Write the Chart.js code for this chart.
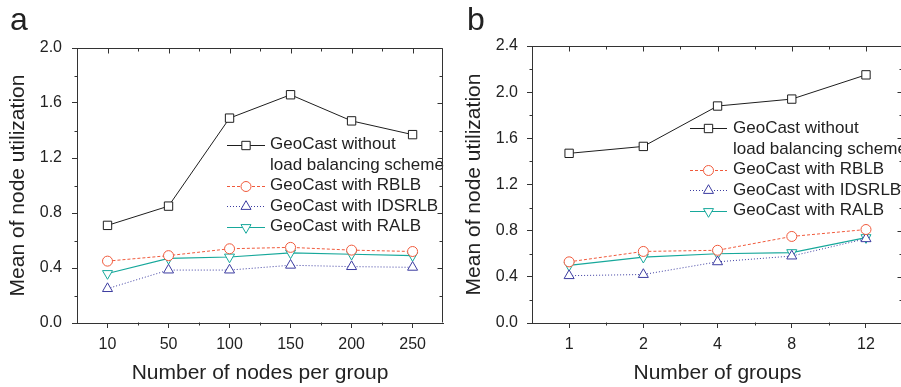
<!DOCTYPE html>
<html>
<head>
<meta charset="utf-8">
<script src="https://cdn.jsdelivr.net/npm/chart.js@4.4.1/dist/chart.umd.min.js"></script>
<style>
  html, body { margin: 0; padding: 0; background: #fff; overflow: hidden; }
  #wrap { position: relative; width: 901px; height: 387px; overflow: hidden; }
  #pa { position: absolute; left: 0; top: 0; }
  #pb { position: absolute; left: 450px; top: 0; }
</style>
</head>
<body>
<div id="wrap">
  <canvas id="pa" width="450" height="387"></canvas>
  <canvas id="pb" width="460" height="387"></canvas>
</div>
<script>
// panel a: nodes per group
var nodeLabels = ["10", "50", "100", "150", "200", "250"];
var aNoLB   = [0.71, 0.85, 1.49, 1.66, 1.47, 1.37];
var aRBLB   = [0.45, 0.49, 0.54, 0.55, 0.53, 0.52];
var aIDSRLB = [0.25, 0.385, 0.385, 0.42, 0.41, 0.405];
var aRALB   = [0.36, 0.47, 0.48, 0.51, 0.50, 0.49];

// panel b: number of groups
var groupLabels = ["1", "2", "4", "8", "12"];
var bNoLB   = [1.47, 1.53, 1.88, 1.94, 2.15];
var bRBLB   = [0.53, 0.62, 0.63, 0.75, 0.81];
var bIDSRLB = [0.41, 0.42, 0.53, 0.58, 0.73];
var bRALB   = [0.50, 0.57, 0.60, 0.61, 0.74];

var seriesNames = ["GeoCast without\nload balancing scheme", "GeoCast with RBLB", "GeoCast with IDSRLB", "GeoCast with RALB"];

var FONT = "'Liberation Sans', Arial, sans-serif";
var INK = "#222";
var AXIS = "#333";

function makeDatasets(noLB, rblb, idsrlb, ralb) {
  return [
    { label: seriesNames[0], data: noLB, borderColor: "#1e1e1e", borderWidth: 1, borderDash: [],
      pointStyle: "rect", pointRadius: 5.9, pointRotation: 0 },
    { label: seriesNames[1], data: rblb, borderColor: "#f05a3c", borderWidth: 1, borderDash: [3, 2],
      pointStyle: "circle", pointRadius: 5, pointRotation: 0 },
    { label: seriesNames[2], data: idsrlb, borderColor: "#3c3ca0", borderWidth: 1, borderDash: [1, 2],
      pointStyle: "triangle", pointRadius: 5.8, pointRotation: 0 },
    { label: seriesNames[3], data: ralb, borderColor: "#17a89b", borderWidth: 1.2, borderDash: [],
      pointStyle: "triangle", pointRadius: 5.8, pointRotation: 180 }
  ].map(function(d) {
    d.backgroundColor = "#fff";
    d.pointBackgroundColor = "#fff";
    d.pointBorderColor = d.borderColor;
    d.pointBorderWidth = 1;
    d.tension = 0;
    d.fill = false;
    return d;
  });
}

function drawMarker(ctx, ds, x, y) {
  var r = ds.pointRadius;
  ctx.save();
  ctx.setLineDash([]);
  ctx.lineWidth = 1;
  ctx.strokeStyle = ds.borderColor;
  ctx.fillStyle = "#fff";
  ctx.beginPath();
  if (ds.pointStyle === "rect") {
    var s = r * Math.SQRT1_2;
    ctx.rect(x - s, y - s, 2 * s, 2 * s);
  } else if (ds.pointStyle === "circle") {
    ctx.arc(x, y, r, 0, Math.PI * 2);
  } else {
    var dir = ds.pointRotation === 180 ? 1 : -1;
    ctx.moveTo(x, y + dir * r);
    ctx.lineTo(x - r * 0.866, y - dir * r * 0.5);
    ctx.lineTo(x + r * 0.866, y - dir * r * 0.5);
    ctx.closePath();
  }
  ctx.fill();
  ctx.stroke();
  ctx.restore();
}

// box frame, mirrored ticks and minor ticks
var framePlugin = {
  id: "frame",
  afterDraw: function(chart, args, opts) {
    var ctx = chart.ctx, a = chart.chartArea;
    var xs = chart.scales.x, ys = chart.scales.y;
    var L = Math.round(a.left) + 0.5, R = Math.round(a.right) - 0.5;
    var T = Math.round(a.top) + 0.5, B = Math.round(a.bottom) - 0.5;
    ctx.save();
    ctx.strokeStyle = AXIS;
    ctx.lineWidth = 1;
    ctx.beginPath();
    ctx.moveTo(L, T); ctx.lineTo(R, T); ctx.lineTo(R, B);
    var n = chart.data.labels.length, i, px, py;
    for (i = 0; i < n; i++) {
      px = Math.round(xs.getPixelForValue(i)) + 0.5;
      ctx.moveTo(px, T); ctx.lineTo(px, T + 5);
      if (i < n - 1) {
        px = Math.round((xs.getPixelForValue(i) + xs.getPixelForValue(i + 1)) / 2) + 0.5;
        ctx.moveTo(px, T); ctx.lineTo(px, T + 3);
        ctx.moveTo(px, B); ctx.lineTo(px, B + 3);
      }
    }
    ys.ticks.forEach(function(t) {
      py = Math.round(ys.getPixelForValue(t.value)) + 0.5;
      ctx.moveTo(R, py); ctx.lineTo(R - 5, py);
      var mv = t.value + opts.minor;
      if (mv < ys.max) {
        py = Math.round(ys.getPixelForValue(mv)) + 0.5;
        ctx.moveTo(R, py); ctx.lineTo(R - 3, py);
        ctx.moveTo(L, py); ctx.lineTo(L - 3, py);
      }
    });
    ctx.stroke();
    // panel letter
    ctx.fillStyle = INK;
    ctx.font = "32px " + FONT;
    ctx.textBaseline = "alphabetic";
    ctx.fillText(opts.letter, opts.letterX, 30);
    ctx.restore();
  }
};

var legendPlugin = {
  id: "insideLegend",
  afterDatasetsDraw: function(chart, args, opts) {
    var ctx = chart.ctx;
    var y = opts.y;
    chart.data.datasets.forEach(function(ds) {
      ctx.save();
      ctx.strokeStyle = ds.borderColor;
      ctx.lineWidth = ds.borderWidth;
      ctx.setLineDash(ds.borderDash);
      ctx.beginPath();
      ctx.moveTo(opts.x, Math.round(y) + 0.5);
      ctx.lineTo(opts.x + opts.len, Math.round(y) + 0.5);
      ctx.stroke();
      drawMarker(ctx, ds, opts.x + opts.len / 2, Math.round(y) + 0.5);
      ctx.fillStyle = INK;
      ctx.font = "17px " + FONT;
      ctx.textBaseline = "middle";
      var lines = ds.label.split("\n");
      lines.forEach(function(t, k) {
        ctx.fillText(t, opts.x + opts.len + opts.gap, y + k * opts.row);
      });
      y += lines.length * opts.row;
      ctx.restore();
    });
  }
};

function makeChart(el, labels, sets, cfg) {
  return new Chart(el, {
    type: "line",
    data: { labels: labels, datasets: sets },
    plugins: [framePlugin, legendPlugin],
    options: {
      responsive: false,
      animation: false,
      layout: { padding: { top: cfg.top, right: cfg.right, left: 0, bottom: 0 } },
      plugins: {
        legend: { display: false },
        tooltip: { enabled: false },
        frame: { minor: 0.2, letter: cfg.letter, letterX: cfg.letterX },
        insideLegend: cfg.legend
      },
      scales: {
        x: {
          type: "category",
          offset: true,
          afterFit: function(s) { s.height = cfg.xHeight; },
          border: { display: true, color: AXIS, width: 1 },
          grid: { display: true, drawOnChartArea: false, drawTicks: true, tickLength: 5, color: AXIS },
          ticks: { color: INK, font: { family: FONT, size: 16 }, padding: 7, maxRotation: 0 },
          title: { display: true, text: cfg.xTitle, color: INK, font: { family: FONT, size: 21 },
                   padding: { top: 0, bottom: 1 } }
        },
        y: {
          min: 0,
          max: cfg.yMax,
          afterFit: function(s) { s.width = cfg.yWidth; },
          border: { display: true, color: AXIS, width: 1 },
          grid: { display: true, drawOnChartArea: false, drawTicks: true, tickLength: 5, color: AXIS },
          ticks: { stepSize: 0.4, color: INK, font: { family: FONT, size: 16 }, padding: cfg.yPad,
                   callback: function(v) { return Number(v).toFixed(1); } },
          title: { display: true, text: "Mean of node utilization", color: INK, font: { family: FONT, size: 21 },
                   padding: { top: cfg.yTitlePad, bottom: 0 } }
        }
      }
    }
  });
}

makeChart(document.getElementById("pa"), nodeLabels,
  makeDatasets(aNoLB, aRBLB, aIDSRLB, aRALB),
  { top: 48, right: 2, xHeight: 64, yWidth: 77, yMax: 2.0, yPad: 10, yTitlePad: 6,
    xTitle: "Number of nodes per group", letter: "a", letterX: 10,
    legend: { x: 227, y: 144.7, len: 38, gap: 5, row: 20.5 } });

makeChart(document.getElementById("pb"), groupLabels,
  makeDatasets(bNoLB, bRBLB, bIDSRLB, bRALB),
  { top: 46, right: 4, xHeight: 64, yWidth: 82, yMax: 2.4, yPad: 9, yTitlePad: 12,
    xTitle: "Number of groups", letter: "b", letterX: 17,
    legend: { x: 240, y: 128.3, len: 37, gap: 6, row: 20.6 } });
</script>
</body>
</html>
